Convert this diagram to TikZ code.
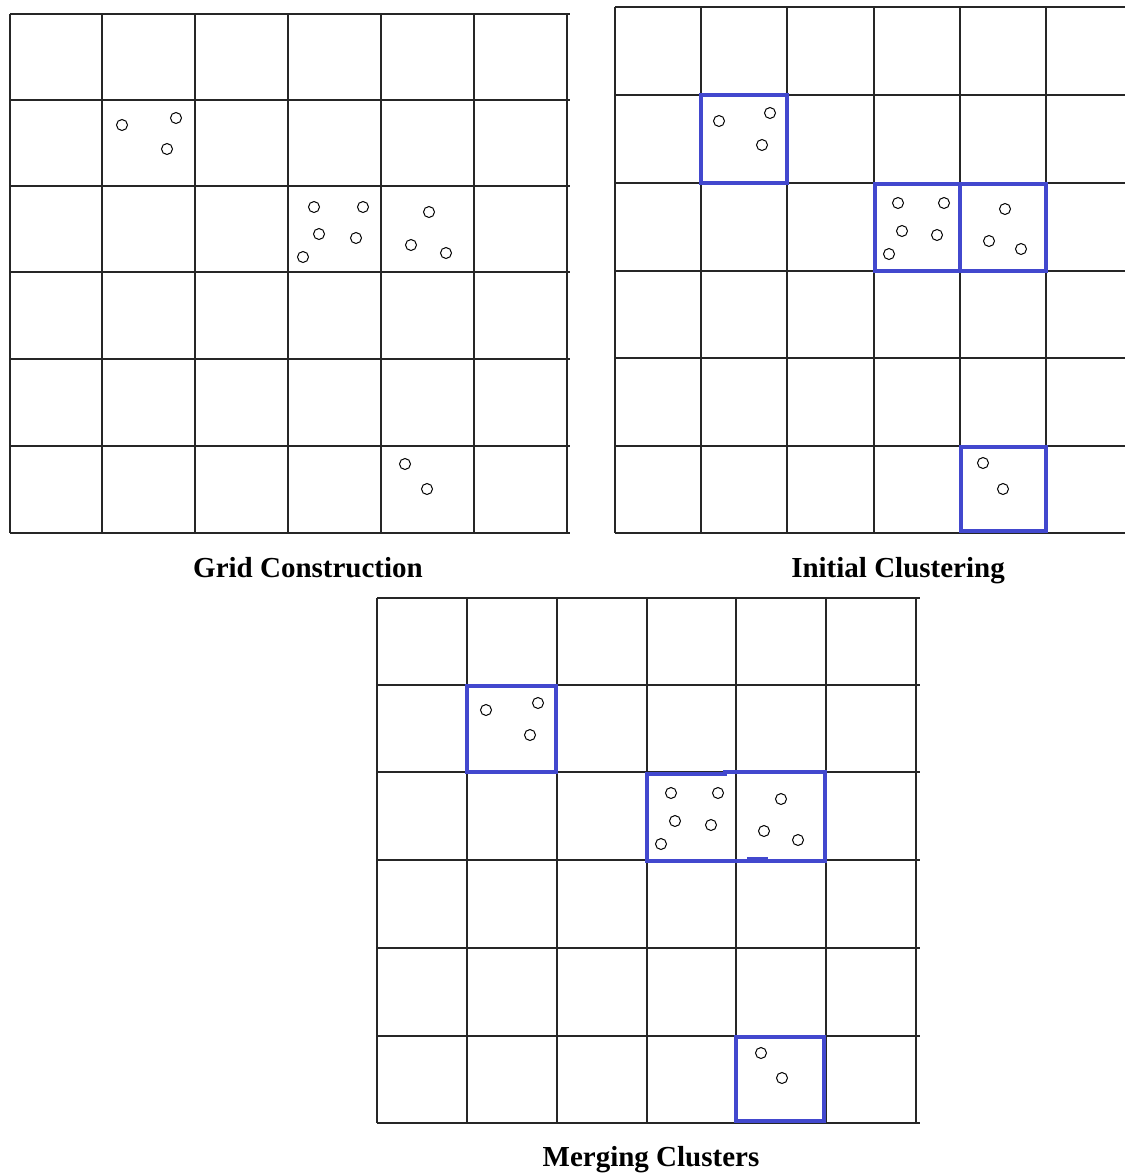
\documentclass[tikz,border=0pt]{standalone}
\usepackage{fontspec}
\setmainfont{Liberation Serif}
\usetikzlibrary{positioning}
\definecolor{ClusterBlue}{RGB}{66,72,206}
\tikzset{
  gridline/.style={draw=black!85,line width=0.65pt},
  clusterbox/.style={draw=ClusterBlue,line width=2pt},
  datapt/.style={draw=black,line width=0.5pt},
  caption/.style={font=\fontsize{14.5}{17}\selectfont\bfseries,inner sep=0pt,
    anchor=base}
}

\begin{document}
\begin{tikzpicture}[x=0.5pt,y=-0.5pt]
  \useasboundingbox (0,0) rectangle (1125,1173);
  % grid 1
  \foreach \x in {10,102,195,288,381,474,567}
    \draw[gridline] (\x,14) -- (\x,533);
  \foreach \y in {14,100,186,272,359,446,533}
    \draw[gridline] (10,\y) -- (570,\y);
  % grid 2
  \foreach \x in {615,701,787,874,960,1046}
    \draw[gridline] (\x,7) -- (\x,533);
  \foreach \y in {7,95,183,271,358,446,533}
    \draw[gridline] (615,\y) -- (1125,\y);
  % grid 3
  \foreach \x in {377,467,557,647,736,826,916}
    \draw[gridline] (\x,598) -- (\x,1123);
  \foreach \y in {598,685,772,860,948,1036,1123}
    \draw[gridline] (377,\y) -- (920,\y);
  % clusters
  \draw[clusterbox] (701,95) rectangle (787,183);
  \draw[clusterbox] (875,184) rectangle (960,271);
  \draw[clusterbox] (960,184) rectangle (1046,271);
  \draw[clusterbox] (961,447) rectangle (1046,531);
  \draw[clusterbox] (467,686) rectangle (556,772);
  \draw[clusterbox] (647,774) -- (725,774) -- (725,772) -- (825,772)
    -- (825,861) -- (647,861) -- cycle;
  \draw[clusterbox] (747,859) -- (768,859);
  \draw[clusterbox] (736,1037) rectangle (824,1121);
  % points
  \foreach \p in {(122,125),(176,118),(167,149),
      (314,207),(363,207),(319,234),(356,238),(303,257),
      (429,212),(411,245),(446,253),(405,464),(427,489),
      (719,121),(770,113),(762,145),
      (898,203),(944,203),(902,231),(937,235),(889,254),
      (1005,209),(989,241),(1021,249),(983,463),(1003,489),
      (486,710),(538,703),(530,735),
      (671,793),(718,793),(675,821),(711,825),(661,844),
      (781,799),(764,831),(798,840),(761,1053),(782,1078)}
    \draw[datapt] \p circle[radius=5.5];
  % captions
  \node[caption] (capgrid) at (308,577) {Grid Construction};
  \node[caption] (capinit) at (898,577) {Initial Clustering};
  \node[caption] (capmerge) at (651,1166) {Merging Clusters};
\end{tikzpicture}
\end{document}
